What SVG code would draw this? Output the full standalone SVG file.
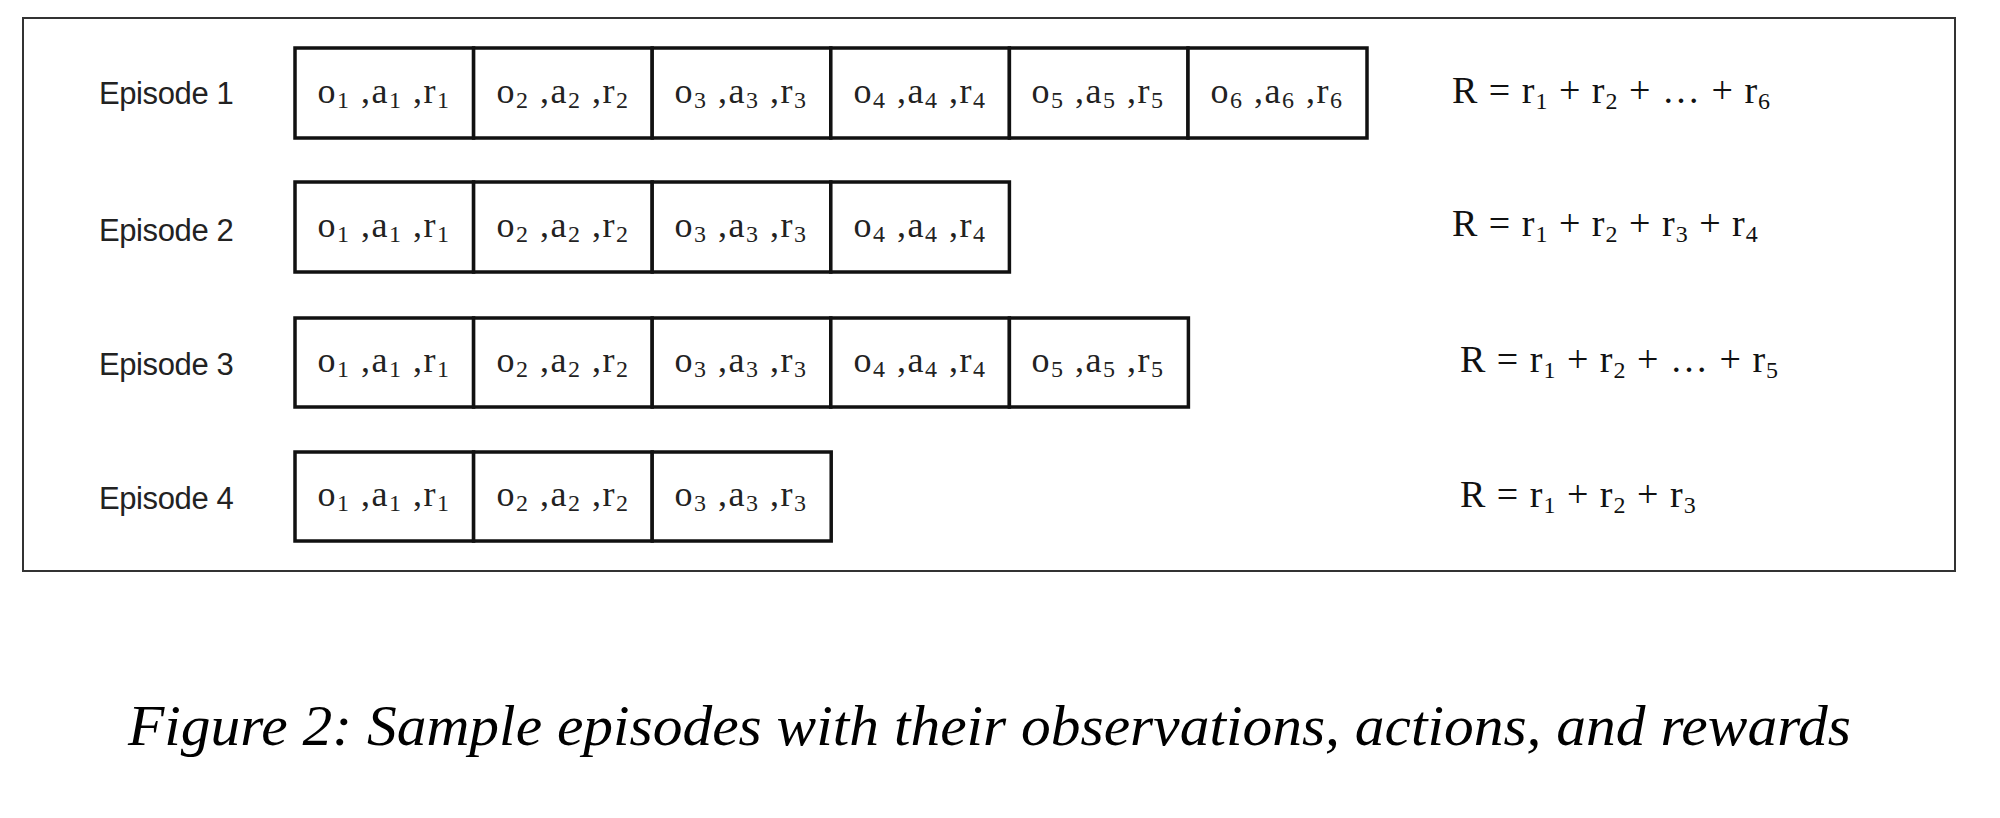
<svg xmlns="http://www.w3.org/2000/svg" width="2000" height="818" viewBox="0 0 2000 818">
<style>
.frame{fill:#fff;stroke:#333;stroke-width:2}
.cell{fill:#fff;stroke:#111;stroke-width:3.5}
.lbl{font-family:"Liberation Sans",Arial,sans-serif;font-size:31px;fill:#222;letter-spacing:-0.4px}
.ct{font-family:"Liberation Serif","Times New Roman",serif;font-size:36px;fill:#222;text-anchor:middle;letter-spacing:1.5px}
.sub{font-size:24px}
.fm{font-family:"Liberation Serif","Times New Roman",serif;font-size:38px;fill:#111;letter-spacing:1px}
.cap{font-family:"Liberation Serif","Times New Roman",serif;font-style:italic;font-size:57px;fill:#000}
</style>
<rect width="2000" height="818" fill="#fff"/>
<rect class="frame" x="23" y="18" width="1932" height="553"/>
<g id="connectors"></g>

<g id="episode1">
<text class="lbl" x="99" y="104">Episode 1</text>
<rect class="cell" x="295" y="48" width="178.6" height="90"/>
<rect class="cell" x="473.6" y="48" width="178.6" height="90"/>
<rect class="cell" x="652.2" y="48" width="178.6" height="90"/>
<rect class="cell" x="830.8" y="48" width="178.6" height="90"/>
<rect class="cell" x="1009.4" y="48" width="178.6" height="90"/>
<rect class="cell" x="1188" y="48" width="179" height="90"/>
<text class="ct" x="384" y="103">o<tspan class="sub" dy="5">1</tspan><tspan dy="-5"> ,a</tspan><tspan class="sub" dy="5">1</tspan><tspan dy="-5"> ,r</tspan><tspan class="sub" dy="5">1</tspan></text>
<text class="ct" x="563" y="103">o<tspan class="sub" dy="5">2</tspan><tspan dy="-5"> ,a</tspan><tspan class="sub" dy="5">2</tspan><tspan dy="-5"> ,r</tspan><tspan class="sub" dy="5">2</tspan></text>
<text class="ct" x="741" y="103">o<tspan class="sub" dy="5">3</tspan><tspan dy="-5"> ,a</tspan><tspan class="sub" dy="5">3</tspan><tspan dy="-5"> ,r</tspan><tspan class="sub" dy="5">3</tspan></text>
<text class="ct" x="920" y="103">o<tspan class="sub" dy="5">4</tspan><tspan dy="-5"> ,a</tspan><tspan class="sub" dy="5">4</tspan><tspan dy="-5"> ,r</tspan><tspan class="sub" dy="5">4</tspan></text>
<text class="ct" x="1098" y="103">o<tspan class="sub" dy="5">5</tspan><tspan dy="-5"> ,a</tspan><tspan class="sub" dy="5">5</tspan><tspan dy="-5"> ,r</tspan><tspan class="sub" dy="5">5</tspan></text>
<text class="ct" x="1277" y="103">o<tspan class="sub" dy="5">6</tspan><tspan dy="-5"> ,a</tspan><tspan class="sub" dy="5">6</tspan><tspan dy="-5"> ,r</tspan><tspan class="sub" dy="5">6</tspan></text>
<text class="fm" x="1452" y="103">R = r<tspan class="sub" dy="6">1</tspan><tspan dy="-6"> + r</tspan><tspan class="sub" dy="6">2</tspan><tspan dy="-6"> + … + r</tspan><tspan class="sub" dy="6">6</tspan></text>
</g>

<g id="episode2">
<text class="lbl" x="99" y="241">Episode 2</text>
<rect class="cell" x="295" y="182" width="178.6" height="90"/>
<rect class="cell" x="473.6" y="182" width="178.6" height="90"/>
<rect class="cell" x="652.2" y="182" width="178.6" height="90"/>
<rect class="cell" x="830.8" y="182" width="178.6" height="90"/>
<text class="ct" x="384" y="237">o<tspan class="sub" dy="5">1</tspan><tspan dy="-5"> ,a</tspan><tspan class="sub" dy="5">1</tspan><tspan dy="-5"> ,r</tspan><tspan class="sub" dy="5">1</tspan></text>
<text class="ct" x="563" y="237">o<tspan class="sub" dy="5">2</tspan><tspan dy="-5"> ,a</tspan><tspan class="sub" dy="5">2</tspan><tspan dy="-5"> ,r</tspan><tspan class="sub" dy="5">2</tspan></text>
<text class="ct" x="741" y="237">o<tspan class="sub" dy="5">3</tspan><tspan dy="-5"> ,a</tspan><tspan class="sub" dy="5">3</tspan><tspan dy="-5"> ,r</tspan><tspan class="sub" dy="5">3</tspan></text>
<text class="ct" x="920" y="237">o<tspan class="sub" dy="5">4</tspan><tspan dy="-5"> ,a</tspan><tspan class="sub" dy="5">4</tspan><tspan dy="-5"> ,r</tspan><tspan class="sub" dy="5">4</tspan></text>
<text class="fm" x="1452" y="236">R = r<tspan class="sub" dy="6">1</tspan><tspan dy="-6"> + r</tspan><tspan class="sub" dy="6">2</tspan><tspan dy="-6"> + r</tspan><tspan class="sub" dy="6">3</tspan><tspan dy="-6"> + r</tspan><tspan class="sub" dy="6">4</tspan></text>
</g>

<g id="episode3">
<text class="lbl" x="99" y="375">Episode 3</text>
<rect class="cell" x="295" y="318" width="178.6" height="89"/>
<rect class="cell" x="473.6" y="318" width="178.6" height="89"/>
<rect class="cell" x="652.2" y="318" width="178.6" height="89"/>
<rect class="cell" x="830.8" y="318" width="178.6" height="89"/>
<rect class="cell" x="1009.4" y="318" width="179" height="89"/>
<text class="ct" x="384" y="372">o<tspan class="sub" dy="5">1</tspan><tspan dy="-5"> ,a</tspan><tspan class="sub" dy="5">1</tspan><tspan dy="-5"> ,r</tspan><tspan class="sub" dy="5">1</tspan></text>
<text class="ct" x="563" y="372">o<tspan class="sub" dy="5">2</tspan><tspan dy="-5"> ,a</tspan><tspan class="sub" dy="5">2</tspan><tspan dy="-5"> ,r</tspan><tspan class="sub" dy="5">2</tspan></text>
<text class="ct" x="741" y="372">o<tspan class="sub" dy="5">3</tspan><tspan dy="-5"> ,a</tspan><tspan class="sub" dy="5">3</tspan><tspan dy="-5"> ,r</tspan><tspan class="sub" dy="5">3</tspan></text>
<text class="ct" x="920" y="372">o<tspan class="sub" dy="5">4</tspan><tspan dy="-5"> ,a</tspan><tspan class="sub" dy="5">4</tspan><tspan dy="-5"> ,r</tspan><tspan class="sub" dy="5">4</tspan></text>
<text class="ct" x="1098" y="372">o<tspan class="sub" dy="5">5</tspan><tspan dy="-5"> ,a</tspan><tspan class="sub" dy="5">5</tspan><tspan dy="-5"> ,r</tspan><tspan class="sub" dy="5">5</tspan></text>
<text class="fm" x="1460" y="372">R = r<tspan class="sub" dy="6">1</tspan><tspan dy="-6"> + r</tspan><tspan class="sub" dy="6">2</tspan><tspan dy="-6"> + … + r</tspan><tspan class="sub" dy="6">5</tspan></text>
</g>

<g id="episode4">
<text class="lbl" x="99" y="509">Episode 4</text>
<rect class="cell" x="295" y="452" width="178.6" height="89"/>
<rect class="cell" x="473.6" y="452" width="178.6" height="89"/>
<rect class="cell" x="652.2" y="452" width="179" height="89"/>
<text class="ct" x="384" y="506">o<tspan class="sub" dy="5">1</tspan><tspan dy="-5"> ,a</tspan><tspan class="sub" dy="5">1</tspan><tspan dy="-5"> ,r</tspan><tspan class="sub" dy="5">1</tspan></text>
<text class="ct" x="563" y="506">o<tspan class="sub" dy="5">2</tspan><tspan dy="-5"> ,a</tspan><tspan class="sub" dy="5">2</tspan><tspan dy="-5"> ,r</tspan><tspan class="sub" dy="5">2</tspan></text>
<text class="ct" x="741" y="506">o<tspan class="sub" dy="5">3</tspan><tspan dy="-5"> ,a</tspan><tspan class="sub" dy="5">3</tspan><tspan dy="-5"> ,r</tspan><tspan class="sub" dy="5">3</tspan></text>
<text class="fm" x="1460" y="507">R = r<tspan class="sub" dy="6">1</tspan><tspan dy="-6"> + r</tspan><tspan class="sub" dy="6">2</tspan><tspan dy="-6"> + r</tspan><tspan class="sub" dy="6">3</tspan></text>
</g>

<g id="caption">
<text class="cap" x="128" y="745" textLength="1723" lengthAdjust="spacingAndGlyphs">Figure 2: Sample episodes with their observations, actions, and rewards</text>
</g>
</svg>
